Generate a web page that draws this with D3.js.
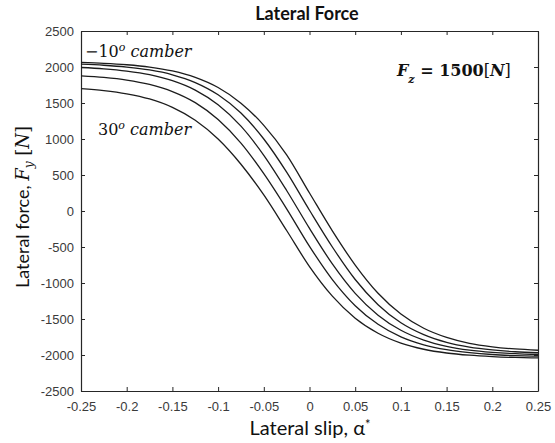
<!DOCTYPE html>
<html>
<head>
<meta charset="utf-8">
<script src="https://cdn.jsdelivr.net/npm/d3@7"></script>
<style>
  body { margin: 0; background: #fff; }
</style>
</head>
<body>
<div id="chart"></div>
<script>
// lateral slip samples (alpha*)
const slip = [-0.25, -0.225, -0.2, -0.175, -0.15, -0.125, -0.1, -0.075, -0.05, -0.025, 0,
              0.025, 0.05, 0.075, 0.1, 0.125, 0.15, 0.175, 0.2, 0.225, 0.25];

// lateral force Fy [N], one array per camber angle
const fyCamberM10 = [2063, 2051, 2031, 1999, 1945, 1856, 1715, 1498, 1190, 780, 250,
                     -276, -751, -1143, -1431, -1629, -1756, -1838, -1886, -1916, -1934];
const fyCamber0   = [2039, 2024, 1999, 1959, 1892, 1784, 1614, 1360, 1000, 539, 10,
                     -500, -951, -1301, -1553, -1718, -1825, -1891, -1930, -1955, -1969];
const fyCamber10  = [1993, 1975, 1944, 1894, 1810, 1679, 1475, 1178, 774, 285, -242,
                     -735, -1144, -1447, -1657, -1793, -1879, -1932, -1963, -1982, -1993];
const fyCamber20  = [1877, 1855, 1819, 1758, 1659, 1505, 1271, 943, 518, 30, -491,
                     -952, -1315, -1574, -1748, -1858, -1926, -1967, -1993, -2008, -2017];
const fyCamber30  = [1700, 1673, 1628, 1556, 1439, 1260, 999, 649, 223, -271, -772,
                     -1183, -1489, -1698, -1835, -1920, -1972, -2003, -2022, -2034, -2040];

const xTicks = [-0.25, -0.2, -0.15, -0.1, -0.05, 0, 0.05, 0.1, 0.15, 0.2, 0.25];
const xTickLabels = ["-0.25", "-0.2", "-0.15", "-0.1", "-0.05", "0", "0.05", "0.1", "0.15", "0.2", "0.25"];
const yTicks = [-2500, -2000, -1500, -1000, -500, 0, 500, 1000, 1500, 2000, 2500];
const yTickLabels = ["-2500", "-2000", "-1500", "-1000", "-500", "0", "500", "1000", "1500", "2000", "2500"];

const width = 555, height = 443;
const margin = {top: 31, right: 17, bottom: 52, left: 81};

const svg = d3.select("#chart").append("svg")
    .attr("width", width)
    .attr("height", height)
    .style("background", "#fff");

/* scales */
const x = d3.scaleLinear().domain([-0.25, 0.25]).range([margin.left, width - margin.right]);
const y = d3.scaleLinear().domain([-2500, 2500]).range([height - margin.bottom, margin.top]);

const axisColor = "#262626";
const tickFont = "'Liberation Sans', Arial, sans-serif";

/* axes: MATLAB style, ticks inside, box on */
const gx = svg.append("g")
    .attr("transform", `translate(0,${y(-2500)})`)
    .call(d3.axisBottom(x).tickValues(xTicks).tickFormat((d, i) => xTickLabels[i])
        .tickSizeInner(-4).tickSizeOuter(0).tickPadding(11));

const gy = svg.append("g")
    .attr("transform", `translate(${x(-0.25)},0)`)
    .call(d3.axisLeft(y).tickValues(yTicks).tickFormat((d, i) => yTickLabels[i])
        .tickSizeInner(-4).tickSizeOuter(0).tickPadding(7));

const gTop = svg.append("g")
    .attr("transform", `translate(0,${y(2500)})`)
    .call(d3.axisTop(x).tickValues(xTicks).tickFormat("").tickSizeInner(-4).tickSizeOuter(0));

const gRight = svg.append("g")
    .attr("transform", `translate(${x(0.25)},0)`)
    .call(d3.axisRight(y).tickValues(yTicks).tickFormat("").tickSizeInner(-4).tickSizeOuter(0));

[gx, gy, gTop, gRight].forEach(g => {
    g.selectAll("path.domain").attr("stroke", axisColor).attr("stroke-width", 1.2);
    g.selectAll(".tick line").attr("stroke", axisColor);
    g.selectAll("text")
        .style("font-family", tickFont)
        .style("font-size", "13px")
        .attr("fill", "#3a3a3a");
});

/* curves */
svg.append("clipPath").attr("id", "plotClip")
    .append("rect")
    .attr("x", x(-0.25)).attr("y", y(2500))
    .attr("width", x(0.25) - x(-0.25))
    .attr("height", y(-2500) - y(2500));

const series = [fyCamberM10, fyCamber0, fyCamber10, fyCamber20, fyCamber30]
    .map(fy => slip.map((s, i) => ({s: s, fy: fy[i]})));

const line = d3.line()
    .x(d => x(d.s))
    .y(d => y(d.fy))
    .curve(d3.curveMonotoneX);

svg.append("g")
    .attr("clip-path", "url(#plotClip)")
    .selectAll("path")
    .data(series)
    .join("path")
    .attr("fill", "none")
    .attr("stroke", "#1c1c1c")
    .attr("stroke-width", 1.3)
    .attr("d", line);

/* title and axis labels */
const sans = "Lato, 'Open Sans', sans-serif";
const serif = "'DejaVu Serif', 'Liberation Serif', serif";

svg.append("text")
    .attr("x", 307).attr("y", 20)
    .attr("text-anchor", "middle")
    .style("font-family", sans)
    .style("font-weight", "700")
    .style("font-size", "18px")
    .attr("fill", "#111")
    .text("Lateral Force");

const xl = svg.append("text")
    .attr("x", 310).attr("y", 435)
    .attr("text-anchor", "middle")
    .style("font-family", sans)
    .style("font-size", "20px")
    .attr("fill", "#111");
xl.append("tspan").text("Lateral slip, α");
xl.append("tspan").attr("dy", -6).style("font-size", "13px").text("*");

const yl = svg.append("text")
    .attr("transform", `translate(29,${(y(2500) + y(-2500)) / 2 - 4}) rotate(-90)`)
    .attr("text-anchor", "middle")
    .style("font-family", sans)
    .style("font-size", "18px")
    .attr("fill", "#111");
yl.append("tspan").text("Lateral force, ");
yl.append("tspan").style("font-family", serif).style("font-style", "italic").text("F");
yl.append("tspan").style("font-family", serif).style("font-style", "italic")
    .style("font-size", "12px").attr("dy", 4).text("y");
yl.append("tspan").style("font-family", serif).attr("dy", -4).text(" [");
yl.append("tspan").style("font-family", serif).style("font-style", "italic").text("N");
yl.append("tspan").style("font-family", serif).text("]");

/* annotations */
const t1 = svg.append("text")
    .attr("x", 85).attr("y", 57)
    .style("font-family", serif).style("font-style", "italic")
    .style("font-size", "16px").attr("fill", "#111");
t1.append("tspan").style("font-style", "normal").text("−10");
t1.append("tspan").attr("baseline-shift", "super").style("font-size", "11px").text("o");
t1.append("tspan").text(" camber");

const t2 = svg.append("text")
    .attr("x", 98).attr("y", 135)
    .style("font-family", serif).style("font-style", "italic")
    .style("font-size", "16px").attr("fill", "#111");
t2.append("tspan").style("font-style", "normal").text("30");
t2.append("tspan").attr("baseline-shift", "super").style("font-size", "11px").text("o");
t2.append("tspan").text(" camber");

const t3 = svg.append("text")
    .attr("x", 397).attr("y", 76)
    .style("font-family", serif).style("font-weight", "700")
    .style("font-size", "16px").attr("fill", "#111");
t3.append("tspan").style("font-style", "italic").text("F");
t3.append("tspan").style("font-style", "italic").style("font-size", "11px")
    .attr("baseline-shift", "sub").text("z");
t3.append("tspan").text(" = 1500");
t3.append("tspan").style("font-weight", "400").text("[");
t3.append("tspan").style("font-style", "italic").text("N");
t3.append("tspan").style("font-weight", "400").text("]");
</script>
</body>
</html>
